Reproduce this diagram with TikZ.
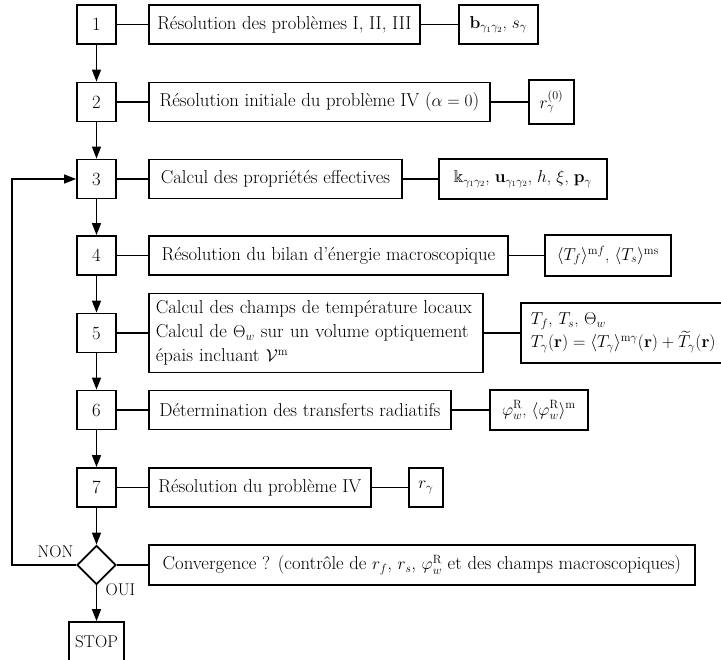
\documentclass[tikz,border=0pt]{standalone}
\usepackage{amsmath,amssymb}
\usetikzlibrary{arrows.meta,shapes.geometric}

\begin{document}
\begin{tikzpicture}[x=1pt,y=-1pt,
  every node/.style={font=\fontsize{18.7}{24}\selectfont},
  numbox/.style={draw,line width=1.8pt,minimum width=39pt,minimum height=39pt,inner sep=0pt},
  stepbox/.style={draw,line width=1.8pt,anchor=west,minimum height=39pt,inner sep=0pt,align=center},
  resbox/.style={draw,line width=1.8pt,anchor=west,minimum height=40pt,inner sep=0pt,align=center,
    font=\fontsize{17}{23}\selectfont},
  link/.style={line width=1.4pt},
  flow/.style={line width=1.4pt,-{Triangle[length=12pt,width=9pt]}},
  lbl/.style={font=\fontsize{17}{20}\selectfont},
]
\useasboundingbox (0,0) rectangle (721,660);

% step numbers
\node[numbox] (n1) at (96.5,24.5) {1};
\node[numbox] (n2) at (96.5,102) {2};
\node[numbox] (n3) at (96.5,179) {3};
\node[numbox] (n4) at (96.5,255.5) {4};
\node[numbox] (n5) at (96.5,333) {5};
\node[numbox] (n6) at (96.5,410) {6};
\node[numbox] (n7) at (96.5,487.5) {7};
\node[draw,diamond,line width=1.8pt,minimum width=39pt,minimum height=39pt,inner sep=0pt] (dec) at (96.5,565) {};
\node[numbox,lbl,minimum width=55pt,minimum height=40pt] (stop) at (96.5,642) {STOP};

% step descriptions
\node[stepbox,minimum width=271pt] (s1) at (148,24.5) {Résolution des problèmes I, II, III};
\node[stepbox,minimum width=341pt] (s2) at (148,102) {Résolution initiale du problème IV ($\alpha = 0$)};
\node[stepbox,minimum width=253pt] (s3) at (148,179) {Calcul des propriétés effectives};
\node[stepbox,minimum width=359pt] (s4) at (148,255.5) {Résolution du bilan d’énergie macroscopique};
\node[stepbox,minimum width=334pt,minimum height=79pt,inner xsep=7pt,text width=320pt,align=left] (s5) at (148,333)
  {Calcul des champs de température locaux\\ Calcul de $\Theta_w$ sur un volume optiquement\\ épais incluant $\mathcal{V}^{\mathrm{m}}$};
\node[stepbox,minimum width=302pt] (s6) at (148,410) {Détermination des transferts radiatifs};
\node[stepbox,minimum width=222pt] (s7) at (148,487.5) {Résolution du problème IV};
\node[stepbox,minimum width=546pt,minimum height=40pt] (sc) at (148,565)
  {Convergence ? (contrôle de $r_f$, $r_s$, $\varphi_w^{\mathrm{R}}$ et des champs macroscopiques)};

% results of each step
\node[resbox,minimum width=79pt,minimum height=39pt] (r1) at (458,24.5) {$\mathbf{b}_{\gamma_1\gamma_2}$, $s_{\gamma}$};
\node[resbox,minimum width=45pt,minimum height=44pt] (r2) at (528,102) {$r_{\gamma}^{(0)}$};
\node[resbox,minimum width=168pt,minimum height=40pt] (r3) at (438,179)
  {$\Bbbk_{\gamma_1\gamma_2}$, $\mathbf{u}_{\gamma_1\gamma_2}$, $h$, $\xi$, $\mathbf{p}_{\gamma}$};
\node[resbox,minimum width=126pt,minimum height=41pt] (r4) at (544,255.5)
  {$\langle T_f\rangle^{\mathrm{m}f}$, $\langle T_s\rangle^{\mathrm{ms}}$};
\node[resbox,minimum width=210pt,minimum height=60pt,inner xsep=10pt,text width=190pt,align=left] (r5) at (520,333)
  {$T_f$, $T_s$, $\Theta_w$\\ $T_{\gamma}(\mathbf{r})=\langle T_{\gamma}\rangle^{\mathrm{m}\gamma}(\mathbf{r})+\widetilde{T}_{\gamma}(\mathbf{r})$};
\node[resbox,minimum width=98pt,minimum height=40pt] (r6) at (489,410)
  {$\varphi_w^{\mathrm{R}}$, $\langle\varphi_w^{\mathrm{R}}\rangle^{\mathrm{m}}$};
\node[resbox,minimum width=34pt,minimum height=39pt] (r7) at (408,487.5) {$r_{\gamma}$};

% horizontal links
\foreach \i in {1,...,7} {
  \draw[link] (n\i.east) -- (s\i.west);
  \draw[link] (s\i.east) -- (r\i.west);
}
\draw[link] (dec.east) -- (sc.west);

% main flow
\draw[flow] (n1) -- (n2);
\draw[flow] (n2) -- (n3);
\draw[flow] (n3) -- (n4);
\draw[flow] (n4) -- (n5);
\draw[flow] (n5) -- (n6);
\draw[flow] (n6) -- (n7);
\draw[flow] (n7) -- (dec);
\draw[flow] (dec) -- (stop);

% iteration loop
\coordinate (lb) at (12,565);
\coordinate (lt) at (12,179);
\draw[flow] (dec.west) -- (lb) -- (lt) -- (n3.west);

\node[lbl,anchor=base east] (non) at (77,558) {NON};
\node[lbl,anchor=base west] (oui) at (102,595) {OUI};
\end{tikzpicture}
\end{document}
